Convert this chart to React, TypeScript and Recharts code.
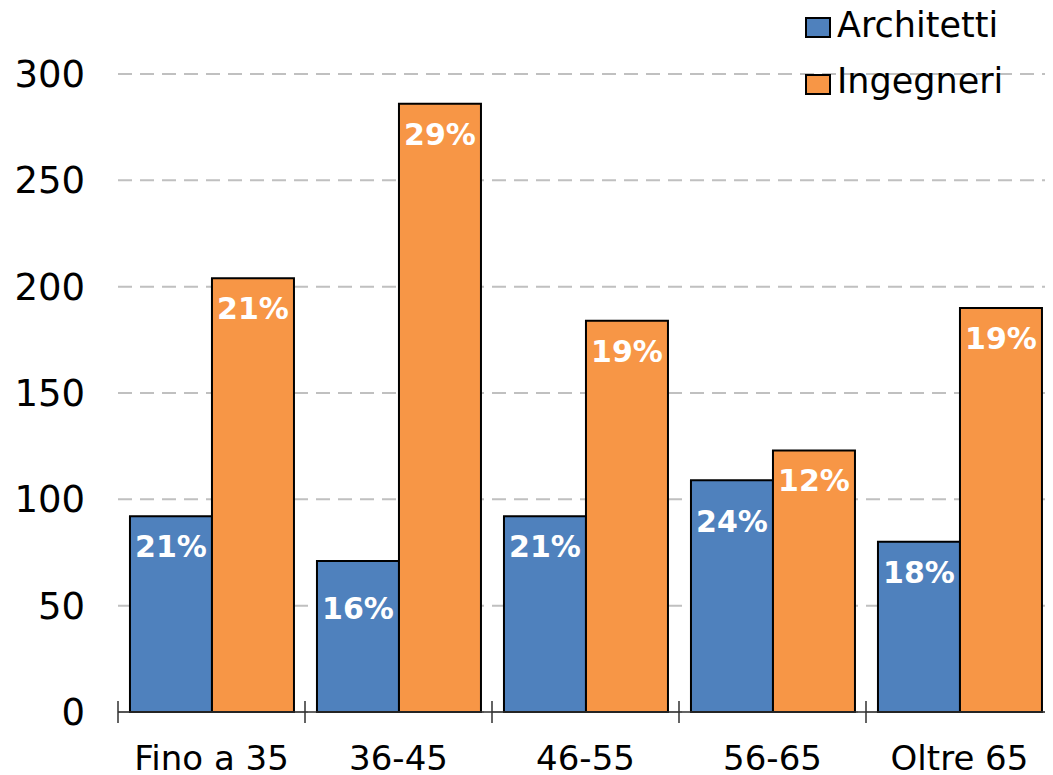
import React from 'react';
import { BarChart, Bar, XAxis, YAxis, CartesianGrid, Legend, LabelList } from 'recharts';

const categories = ['Fino a 35', '36-45', '46-55', '56-65', 'Oltre 65'];
const architetti = [92, 71, 92, 109, 80];
const ingegneri = [204, 286, 184, 123, 190];
const architettiPct = [21, 16, 21, 24, 18];
const ingegneriPct = [21, 29, 19, 12, 19];
const yTicks = [0, 50, 100, 150, 200, 250, 300];

const data = categories.map((name, i) => ({
  name,
  architetti: architetti[i],
  ingegneri: ingegneri[i],
  architettiPct: architettiPct[i],
  ingegneriPct: ingegneriPct[i],
}));

const FONT = '"DejaVu Sans", Verdana, sans-serif';
const BLUE = '#4F81BD';
const ORANGE = '#F79646';
const HALF_BAND = 93.5;
// a couple of labels sit lower in the original
const ARCH_LABEL_DROP = [0, 17, 0, 11, 0];

const CategoryTick = (props: any) => {
  const { x, y, payload } = props;
  return (
    <g>
      <line x1={x - HALF_BAND} x2={x - HALF_BAND} y1={y - 11} y2={y + 11} stroke="#303030" strokeWidth={1.5} />
      <text x={x} y={y + 58} textAnchor="middle" fontSize={34} fontFamily={FONT} fill="#000">
        {payload.value}
      </text>
    </g>
  );
};

const makeLabel = (drops?: number[]) => (props: any) => {
  const { x, y, width, value, index } = props;
  const drop = drops ? drops[index] || 0 : 0;
  return (
    <text
      x={x + width / 2}
      y={y + 41 + drop}
      textAnchor="middle"
      fontSize={30}
      fontWeight="bold"
      fontFamily={FONT}
      fill="#fff"
    >
      {`${value}%`}
    </text>
  );
};

const LegendBox = (props: any) => {
  const { payload } = props;
  return (
    <svg width={245} height={115} style={{ display: 'block', overflow: 'visible' }}>
      {(payload || []).map((p: any, i: number) => (
        <g key={p.value}>
          <rect x={1} y={10 + i * 57} width={24} height={19} fill={p.color} stroke="#000" strokeWidth={2} />
          <text x={32} y={29 + i * 56} fontSize={35} fontFamily={FONT} fill="#000">
            {p.value}
          </text>
        </g>
      ))}
    </svg>
  );
};

export default function App() {
  return (
    <div style={{ fontFamily: FONT }}>
      <BarChart
        width={1045}
        height={767}
        data={data}
        margin={{ top: 66, right: 0, bottom: 0, left: 0 }}
        barCategoryGap="6.4%"
        barGap={0}
      >
        <CartesianGrid vertical={false} stroke="#c0c0c0" strokeWidth={2} strokeDasharray="14 8" />
        <XAxis
          dataKey="name"
          height={63}
          axisLine={{ stroke: '#303030', strokeWidth: 1.5 }}
          tickLine={false}
          tickSize={0}
          tickMargin={0}
          interval={0}
          tick={<CategoryTick />}
        />
        <YAxis
          width={110}
          domain={[0, 300]}
          ticks={yTicks}
          axisLine={false}
          tickLine={false}
          tickSize={0}
          tickMargin={33}
          tick={{ fontSize: 37, fill: '#000', fontFamily: FONT }}
        />
        <Legend
          layout="horizontal"
          verticalAlign="middle"
          align="center"
          wrapperStyle={{ left: 797, top: 0, width: 245, height: 115 }}
          content={<LegendBox />}
        />
        <Bar dataKey="architetti" name="Architetti" fill={BLUE} stroke="#000" strokeWidth={2} isAnimationActive={false}>
          <LabelList dataKey="architettiPct" content={makeLabel(ARCH_LABEL_DROP)} />
        </Bar>
        <Bar dataKey="ingegneri" name="Ingegneri" fill={ORANGE} stroke="#000" strokeWidth={2} isAnimationActive={false}>
          <LabelList dataKey="ingegneriPct" content={makeLabel()} />
        </Bar>
      </BarChart>
    </div>
  );
}
